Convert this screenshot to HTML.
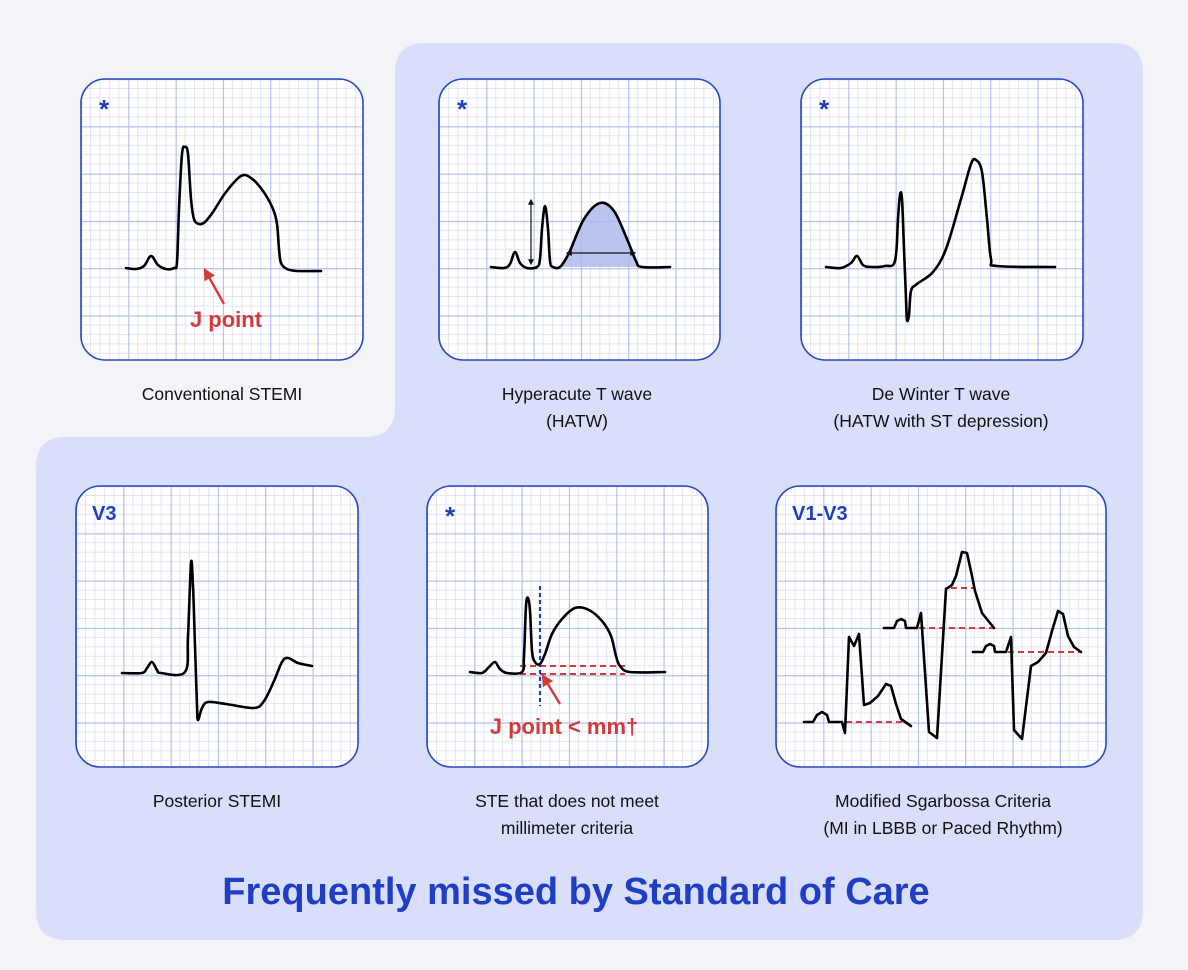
<!DOCTYPE html>
<html><head><meta charset="utf-8"><style>
html,body{margin:0;padding:0;background:#f3f4f8;}
svg{display:block;font-family:"Liberation Sans",sans-serif;}
</style></head><body>
<svg id="s" width="1188" height="970" viewBox="0 0 1188 970">
<rect width="1188" height="970" fill="#f3f4f8"/>
<path d="M425,43 H1113 Q1143,43 1143,73 V910 Q1143,940 1113,940 H66 Q36,940 36,910 V467 Q36,437 66,437 H365 Q395,437 395,407 V73 Q395,43 425,43 Z" fill="#d9defa"/>
<g id="panels"></g>
<g font-size="17.5" fill="#111" text-anchor="middle">
<text x="222" y="400">Conventional STEMI</text>
<text x="577" y="400">Hyperacute T wave</text>
<text x="577" y="427">(HATW)</text>
<text x="941" y="400">De Winter T wave</text>
<text x="941" y="427">(HATW with ST depression)</text>
<text x="217" y="807">Posterior STEMI</text>
<text x="567" y="807">STE that does not meet</text>
<text x="567" y="834">millimeter criteria</text>
<text x="943" y="807">Modified Sgarbossa Criteria</text>
<text x="943" y="834">(MI in LBBB or Paced Rhythm)</text>
</g>
<text x="576" y="904" text-anchor="middle" font-size="38" font-weight="bold" fill="#1f3ec4">Frequently missed by Standard of Care</text>
</svg>
<script>
// panels: [x, y, w, h]
const panelBoxes = [[81,79,282,281],[439,79,281,281],[801,79,282,281],[76,486,282,281],[427,486,281,281],[776,486,330,281]];
const panelNames = ['conventional-stemi','hyperacute-t-wave','de-winter-t-wave','posterior-stemi','ste-below-mm','sgarbossa'];
const panelTags = ['*','*','*','V3','*','V1-V3'];
// waveforms (panel-local coords)
const wave1 = [[45,189],[55,190],[63,187],[70,177],[77,186],[85,190],[93,189],[96,183],[98,130],[101,75],[104,68],[107,75],[110,120],[113,140],[118,145],[124,143],[132,133],[145,113],[160,97],[170,99],[182,112],[192,130],[196,145],[198,170],[200,184],[206,190],[216,192],[240,192]];
const wave2 = [[52,188],[65,189],[71,185],[76,173],[81,184],[88,189],[98,188],[101,180],[103,150],[106,127],[109,150],[111,182],[114,188],[121,188],[130,174],[145,140],[161,124],[175,132],[188,160],[197,182],[203,188],[231,188]];
const wave3 = [[25,188],[40,189],[50,184],[56,177],[62,186],[70,188],[84,187],[94,182],[97,140],[99,116],[101,120],[103,170],[105,220],[106,241],[108,236],[110,212],[116,205],[132,193],[145,170],[160,120],[170,85],[175,81],[181,93],[186,140],[190,180],[196,187],[254,188]];
const wave4 = [[46,187],[66,187],[71,182],[76,176],[81,184],[85,187],[109,186],[112,150],[115,77],[117,100],[119,160],[121,220],[122,234],[126,222],[132,216],[150,218],[178,222],[188,215],[198,195],[206,176],[212,172],[222,177],[236,180]];
const wave5 = [[43,186],[55,187],[62,181],[68,176],[73,183],[80,187],[95,186],[97,170],[99,120],[101,112],[103,125],[105,165],[108,176],[113,178],[118,168],[125,148],[135,133],[148,122],[162,124],[175,135],[184,150],[189,170],[193,180],[203,186],[238,186]];
const wave6a = [[28,236],[37,236],[41,229],[46,226],[51,229],[53,236],[66,236],[69,247],[73,151],[78,160],[83,148],[88,219],[94,217],[102,210],[110,198],[115,200],[120,218],[125,233],[135,240]];
const wave6b = [[108,142],[118,142],[121,135],[125,133],[129,135],[130,142],[141,142],[145,127],[153,246],[161,252],[170,103],[176,99],[180,90],[186,66],[191,67],[196,90],[199,105],[206,127],[218,142]];
const wave6c = [[197,166],[207,166],[210,160],[214,158],[218,160],[219,166],[230,166],[235,151],[238,244],[246,253],[255,180],[262,176],[270,167],[276,145],[282,125],[287,128],[292,150],[298,161],[305,166]];
const waves = [[wave1],[wave2],[wave3],[wave4],[wave5],[wave6a,wave6b,wave6c]];
const smoothFlags = [true,true,true,true,true,false];

const NS='http://www.w3.org/2000/svg';
const root=document.getElementById('panels');
const defs=document.createElementNS(NS,'defs');
document.getElementById('s').insertBefore(defs,document.getElementById('s').firstChild);
function mk(tag,attrs,parent){const e=document.createElementNS(NS,tag);for(const k in attrs)e.setAttribute(k,attrs[k]);parent.appendChild(e);return e;}
function pathFrom(pts,ox,oy,smooth){
  const P=pts.map(p=>[p[0]+ox,p[1]+oy]);
  let d='M'+P[0][0]+','+P[0][1];
  if(!smooth){for(let i=1;i<P.length;i++)d+=' L'+P[i][0]+','+P[i][1];return d;}
  for(let i=0;i<P.length-1;i++){
    const p0=P[Math.max(0,i-1)],p1=P[i],p2=P[i+1],p3=P[Math.min(P.length-1,i+2)];
    const c1=[p1[0]+(p2[0]-p0[0])/6,p1[1]+(p2[1]-p0[1])/6];
    const c2=[p2[0]-(p3[0]-p1[0])/6,p2[1]-(p3[1]-p1[1])/6];
    d+=` C${c1[0].toFixed(1)},${c1[1].toFixed(1)} ${c2[0].toFixed(1)},${c2[1].toFixed(1)} ${p2[0]},${p2[1]}`;
  }
  return d;
}
const arrowMarker=(id,col,sz)=>{const m=mk('marker',{id:id,viewBox:'0 0 10 10',refX:'8',refY:'5',markerWidth:sz,markerHeight:sz,orient:'auto-start-reverse'},defs);mk('path',{d:'M0,0 L10,5 L0,10 Z',fill:col},m);};
arrowMarker('ar','#d33a3a',5);arrowMarker('ak','#111',5);

panelBoxes.forEach((b,i)=>{
  const [x,y,w,h]=b;
  const g=mk('g',{},root);
  
  
  const cp=mk('clipPath',{id:'cp'+i},defs);
  mk('rect',{x:x,y:y,width:w,height:h,rx:24},cp);
  const pm=mk('pattern',{id:'pm'+i,x:x,y:y,width:47.3,height:47.3,patternUnits:'userSpaceOnUse'},defs);
  mk('rect',{width:47.3,height:47.3,fill:'#fff'},pm);
  for(let k=1;k<5;k++){const t=k*9.46;
    mk('line',{x1:t,y1:0,x2:t,y2:47.3,stroke:'#e1e5f7','stroke-width':1},pm);
    mk('line',{x1:0,y1:t,x2:47.3,y2:t,stroke:'#e1e5f7','stroke-width':1},pm);}
  mk('line',{x1:0.5,y1:0,x2:0.5,y2:47.3,stroke:'#b0bcee','stroke-width':1.2},pm);
  mk('line',{x1:0,y1:0.5,x2:47.3,y2:0.5,stroke:'#b0bcee','stroke-width':1.2},pm);
  const bg=mk('rect',{x:x,y:y,width:w,height:h,fill:'url(#pm'+i+')','clip-path':'url(#cp'+i+')'},g);
  
  
  const tag=mk('text',{x:x+(panelTags[i]==='*'?18:16),y:y+(panelTags[i]==='*'?39:34),fill:'#1f3ec4','font-weight':'bold','font-size':panelTags[i]==='*'?26:20},g);
  tag.textContent=panelTags[i];
  
  
  if(i===1){ // shaded T wave
    const sh=mk('path',{d:pathFrom(wave2.slice(13,21),x,y,true)+' Z',fill:'#a9b8ec','fill-opacity':0.8},g);
    
    
  }
  if(i===4){
    mk('line',{x1:x+93,y1:y+180,x2:x+198,y2:y+180,stroke:'#d33a3a','stroke-width':2,'stroke-dasharray':'6,4'},g);
    mk('line',{x1:x+93,y1:y+188,x2:x+198,y2:y+188,stroke:'#d33a3a','stroke-width':2,'stroke-dasharray':'6,4'},g);
    mk('line',{x1:x+113,y1:y+100,x2:x+113,y2:y+220,stroke:'#1f3ec4','stroke-width':2.2,'stroke-dasharray':'4,3'},g);
  }
  if(i===5){
    [[70,128,236],[143,218,142],[175,197,102],[232,305,166]].forEach(r=>{
      const l=mk('line',{x1:x+r[0],y1:y+r[2],x2:x+r[1],y2:y+r[2],stroke:'#d33a3a','stroke-width':2,'stroke-dasharray':'6,4'},g);
      
      
    });
  }
  waves[i].forEach(wv=>{
    const p=mk('path',{d:pathFrom(wv,x,y,smoothFlags[i]),fill:'none',stroke:'#000','stroke-width':2.6,'stroke-linejoin':'round','stroke-linecap':'round'},g);
    
    
  });
  if(i===1){
    const ha=mk('line',{x1:x+128,y1:y+174,x2:x+196,y2:y+174,stroke:'#111','stroke-width':1.2,'marker-start':'url(#ak)','marker-end':'url(#ak)'},g);
    
    
    const va=mk('line',{x1:x+92,y1:y+121,x2:x+92,y2:y+185,stroke:'#111','stroke-width':1.2,'marker-start':'url(#ak)','marker-end':'url(#ak)'},g);
    
    
  }
  if(i===0||i===4){
    const a=i===0?[143,225,124,191]:[133,218,116,190];
    const ar=mk('line',{x1:x+a[0],y1:y+a[1],x2:x+a[2],y2:y+a[3],stroke:'#d33a3a','stroke-width':2.4,'marker-end':'url(#ar)'},g);
    
    
    const t=mk('text',{x:x+(i===0?145:137),y:y+248,fill:'#d33a3a','font-weight':'bold','font-size':22,'text-anchor':'middle'},g);
    t.textContent=i===0?'J point':'J point < mm†';
    
    
  }
  const br=mk('rect',{x:x,y:y,width:w,height:h,rx:24,fill:'none',stroke:'#2a48c4','stroke-width':1.6},g);
  
  
});
</script>
</body></html>
